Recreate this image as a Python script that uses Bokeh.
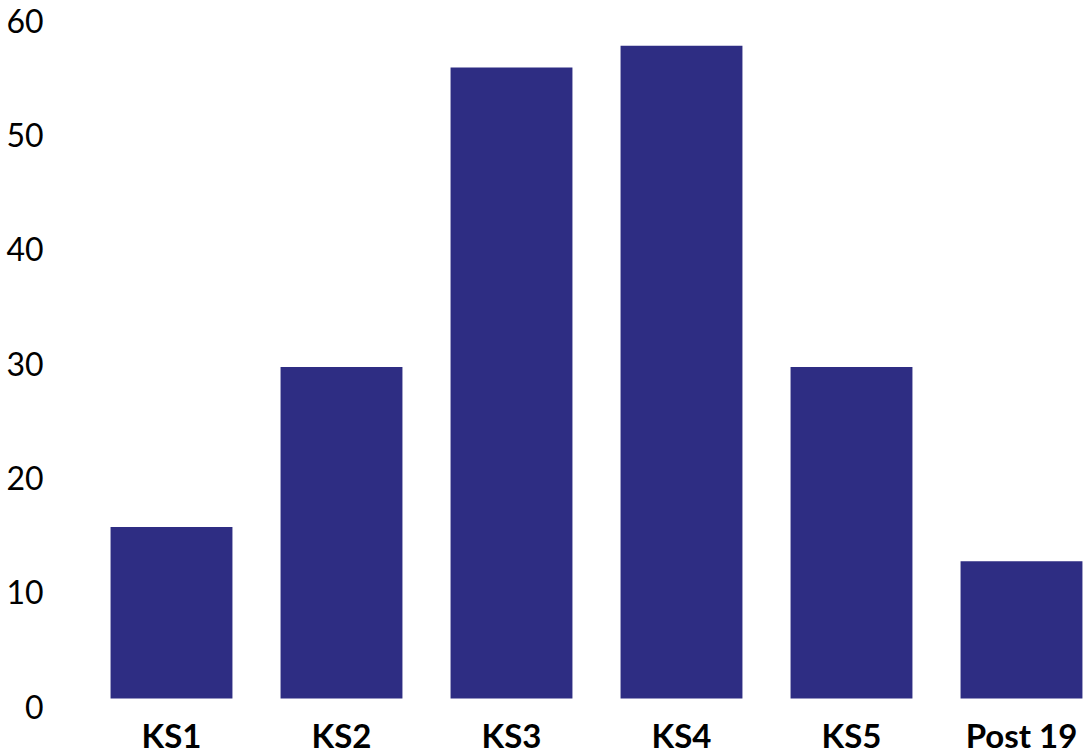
from bokeh.plotting import figure
from bokeh.models import Range1d, LinearAxis, FixedTicker, ColumnDataSource
from bokeh.core.properties import value
from bokeh.embed import file_html
from bokeh.resources import INLINE

categories = ["KS1", "KS2", "KS3", "KS4", "KS5", "Post 19"]
values = [15, 29, 55.2, 57.1, 29, 12]
y_ticks = [0, 10, 20, 30, 40, 50, 60]

BAR = "#2e2d83"
x_pos = list(range(len(categories)))
src = ColumnDataSource(dict(x=x_pos, top=values, cat=categories,
                            base=[0] * len(categories)))

W, H = 1084, 753
FL = 50          # left border (room for y labels)
PXX = 170.0      # px per category
PXY = 11.433     # px per unit
ZERO_PX = 698    # pixel row of the bars' base
y_end = ZERO_PX / PXY
y_start = -(H - ZERO_PX) / PXY
x_start = -(171 - FL) / PXX
x_end = x_start + (W - FL) / PXX
LAB_SHIFT = 0.7  # axis labels sit slightly below their bars' base

p = figure(width=W, height=H, output_backend="svg", toolbar_location=None,
           x_range=Range1d(x_start, x_end), y_range=Range1d(y_start, y_end),
           y_axis_location=None, x_axis_location=None,
           min_border_left=FL, min_border_right=0,
           min_border_top=0, min_border_bottom=0)
p.extra_y_ranges = {"lab": Range1d(y_start + LAB_SHIFT, y_end + LAB_SHIFT)}

p.vbar(x="x", top="top", bottom=0, width=0.717, source=src, color=BAR, line_color=None)
p.text(x="x", y="base", text="cat", source=src, y_offset=36,
       text_align="center", text_baseline="middle",
       text_font=value("Lato"), text_font_style="bold",
       text_font_size="33px", text_color="black")

p.xgrid.visible = False
p.ygrid.visible = False
p.outline_line_color = None
p.background_fill_color = "white"
p.border_fill_color = "white"

ya = LinearAxis(y_range_name="lab", ticker=FixedTicker(ticks=y_ticks))
ya.axis_line_color = None
ya.major_tick_line_color = None
ya.minor_tick_line_color = None
ya.major_tick_out = 0
ya.major_tick_in = 0
ya.major_label_standoff = 7
ya.major_label_text_font = "Lato"
ya.major_label_text_font_size = "32px"
ya.major_label_text_color = "black"
p.add_layout(ya, "left")

open("out.html", "w").write(file_html(p, INLINE))
